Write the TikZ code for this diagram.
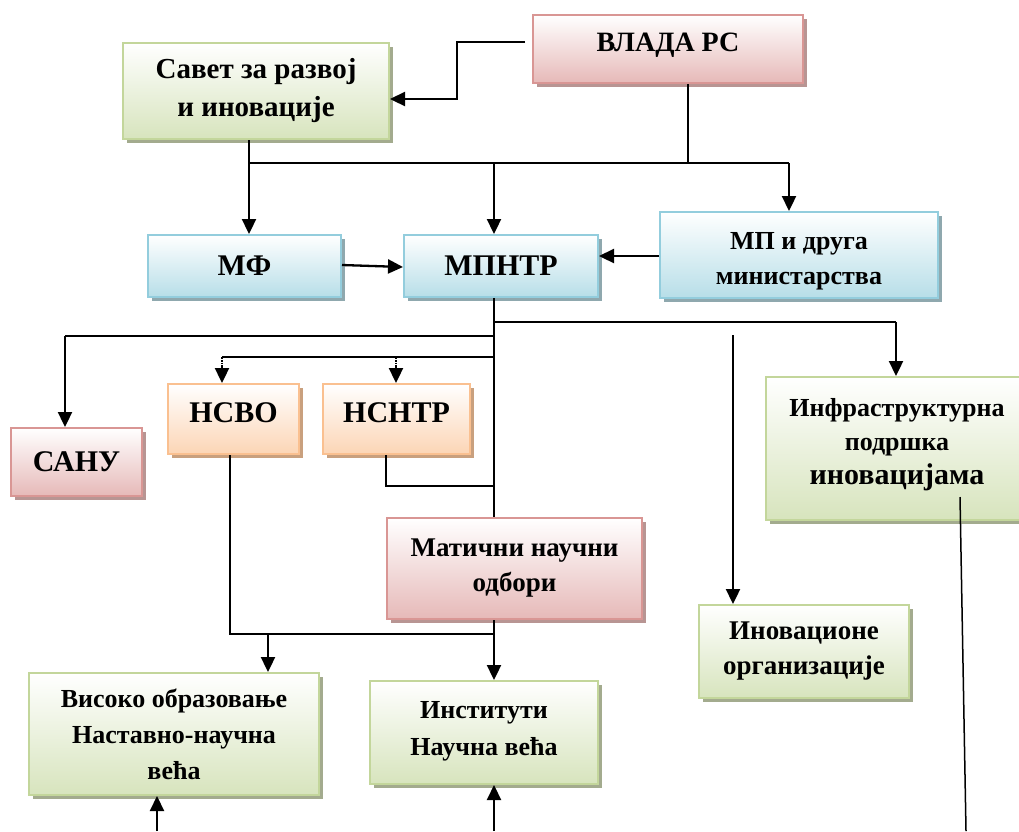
\documentclass[tikz,border=0pt]{standalone}
\usepackage{fontspec}
\setmainfont{Liberation Serif}
\usetikzlibrary{arrows.meta,shadows}
\definecolor{pinkB}{HTML}{D99694}\definecolor{pinkF}{HTML}{E6B9B8}\definecolor{pinkS}{HTML}{B89593}
\definecolor{greenB}{HTML}{C3D69B}\definecolor{greenF}{HTML}{D7E4BD}\definecolor{greenS}{HTML}{A3AB8E}
\definecolor{blueB}{HTML}{93CDDD}\definecolor{blueF}{HTML}{B7DEE8}\definecolor{blueS}{HTML}{8FA8AE}
\definecolor{orangeB}{HTML}{FAC090}\definecolor{orangeF}{HTML}{FCD5B5}\definecolor{orangeS}{HTML}{C9A07E}
\newcommand{\fs}[2]{\bfseries\fontsize{#1}{#2}\selectfont}
\newcommand{\sh}[2]{\raisebox{#1}[\height][\depth]{\begin{tabular}{@{}c@{}}#2\end{tabular}}}
\tikzset{
  box/.style={anchor=north west, rectangle, line width=2pt, align=center, inner sep=0pt,
    font=\fs{26}{36}},
  big/.style={font=\fs{30}{36}},
  pinkbox/.style={box, draw=pinkB, top color=white, bottom color=pinkF,
    general shadow={fill=pinkS, shadow xshift=4pt, shadow yshift=-4pt}},
  greenbox/.style={box, draw=greenB, top color=white, bottom color=greenF,
    general shadow={fill=greenS, shadow xshift=4pt, shadow yshift=-4pt}},
  bluebox/.style={box, draw=blueB, top color=white, bottom color=blueF,
    general shadow={fill=blueS, shadow xshift=4pt, shadow yshift=-4pt}},
  orangebox/.style={box, draw=orangeB, top color=white, bottom color=orangeF,
    general shadow={fill=orangeS, shadow xshift=4pt, shadow yshift=-4pt}},
  conn/.style={line width=1.8pt, draw=black},
  arr/.style={line width=2.3pt, draw=black, -{Triangle[width=14pt,length=15pt]}},
}
\begin{document}
\begin{tikzpicture}[x=1pt,y=-1pt]
\useasboundingbox (0,0) rectangle (1019,831);
\begin{scope}
\clip (0,0) rectangle (1019,831);
% nodes
\node[pinkbox, minimum width=270pt, minimum height=68pt, font=\fs{28}{34}] (vlada) at (532,14) {\sh{4pt}{ВЛАДА РС}};
\node[greenbox, minimum width=266pt, minimum height=96pt, font=\fs{29}{38}] (savet) at (122,42) {Савет за развој\\и иновације};
\node[bluebox, big, minimum width=193pt, minimum height=62pt] (mf) at (147,234) {МФ};
\node[bluebox, big, minimum width=194pt, minimum height=62pt] (mpntr) at (403,234) {МПНТР};
\node[bluebox, minimum width=278pt, minimum height=86pt, font=\fs{26}{35}] (mp) at (659,211) {\sh{-5pt}{МП и друга\\министарства}};
\node[pinkbox, big, minimum width=131pt, minimum height=68pt] (sanu) at (10,427) {САНУ};
\node[orangebox, big, minimum width=131pt, minimum height=70pt] (nsvo) at (167,383) {\sh{4pt}{НСВО}};
\node[orangebox, big, minimum width=147pt, minimum height=70pt] (nsntr) at (322,383) {\sh{4pt}{НСНТР}};
\node[greenbox, minimum width=262pt, minimum height=143pt, font=\fs{26}{34}] (infra) at (765,376) {\sh{5pt}{Инфраструктурна\\подршка\\{\fs{30}{34}иновацијама}}};
\node[pinkbox, minimum width=255pt, minimum height=101pt, font=\fs{27}{35}] (matic) at (386,517) {Матични научни\\одбори};
\node[greenbox, minimum width=210pt, minimum height=93pt, font=\fs{27}{35}] (inov) at (698,604) {Иновационе\\организације};
\node[greenbox, minimum width=290pt, minimum height=122pt, font=\fs{26}{36}] (visoko) at (28,672) {Високо образовање\\Наставно-научна\\већа};
\node[greenbox, minimum width=228pt, minimum height=103pt, font=\fs{26}{37}] (inst) at (369,680) {\sh{3pt}{Институти\\Научна већа}};
% coordinates
\coordinate (v1) at (525,42);
\coordinate (bot1) at (157,831);
\coordinate (bot2) at (494,831);
\coordinate (bot3) at (966,831);
\coordinate (ino0) at (733,335);
\coordinate (inf0) at (960,497);
% connectors
\draw[arr] (v1) -- (457,42) |- (savet.east |- 0,99);
\draw[conn] (vlada.south -| 688,0) -- (688,163);
\draw[conn] (savet.south -| 249,0) -- (249,163) -- (789,163);
\draw[arr] (249,163) -- (mf.north -| 249,0);
\draw[arr] (494,163) -- (mpntr.north -| 494,0);
\draw[arr] (789,163) -- (mp.north -| 789,0);
\draw[arr] (mf.east |- 0,265) -- (mpntr.west |- 0,267);
\draw[arr] (mp.west |- 0,256) -- (mpntr.east |- 0,256);
\draw[conn] (mpntr.south -| 494,0) -- (matic.north -| 494,0);
\draw[conn] (494,322) -- (896,322);
\draw[arr] (896,322) -- (infra.north -| 896,0);
\draw[conn] (494,336) -- (65,336);
\draw[arr] (65,336) -- (sanu.north -| 65,0);
\draw[conn] (494,357) -- (222,357);
\draw[line width=1.8pt, densely dotted] (222,357) -- (222,369);
\draw[line width=1.8pt, densely dotted] (396,357) -- (396,369);
\draw[arr] (222,367) -- (nsvo.north -| 222,0);
\draw[arr] (396,367) -- (nsntr.north -| 396,0);
\draw[conn] (nsntr.south -| 386,0) |- (494,486);
\draw[conn] (nsvo.south -| 230,0) |- (494,634);
\draw[conn] (matic.south -| 494,0) -- (494,634);
\draw[arr] (268,634) -- (visoko.north -| 268,0);
\draw[arr] (494,634) -- (inst.north -| 494,0);
\draw[arr] (ino0) -- (inov.north -| ino0);
\draw[line width=1.5pt] (inf0) -- (bot3);
\draw[arr] (bot1) -- (visoko.south -| bot1);
\draw[arr] (bot2) -- (inst.south -| bot2);
\end{scope}
\end{tikzpicture}
\end{document}
